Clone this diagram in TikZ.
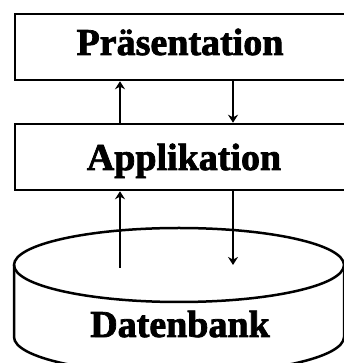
\documentclass[tikz,border=0pt]{standalone}
\usepackage{fontspec}
\setmainfont{Liberation Serif}
\newfontfamily\heavyfont[FakeBold=2]{Liberation Serif Bold}
\usetikzlibrary{arrows.meta}
\begin{document}
\begin{tikzpicture}[x=1pt,y=1pt,
  layerbox/.style={draw=black,line width=2.5pt,fill=white,minimum width=331pt,minimum height=66pt,inner sep=0pt},
  lbl/.style={font=\heavyfont\fontsize{38}{40}\selectfont,inner sep=0pt,anchor=base},
  arr/.style={line width=2.2pt,-{Stealth[length=8pt,width=10pt]}},
  cyl/.style={draw=black,line width=2.5pt}]
\useasboundingbox (0,0) rectangle (344,363);
\node[layerbox] (pres) at (180.5,316) {};
\node[layerbox] (app) at (180.5,206) {};
\node[lbl] (presT) at (180,308) {Präsentation};
\node[lbl] (appT) at (184,193) {Applikation};
% database cylinder
\draw[cyl] (14,98) -- (14,26) arc[start angle=180,end angle=360,x radius=165,y radius=37] -- (344,98);
\draw[cyl] (179,98) ellipse[x radius=165,y radius=37];
\node[lbl] (dbT) at (180,26) {Datenbank};
\coordinate (L) at (120,0);
\coordinate (R) at (233,0);
\coordinate (dbL) at (120,95);
\coordinate (dbR) at (233,98);
\draw[arr] (app.north -| L) -- (pres.south -| L);
\draw[arr] (pres.south -| R) -- (app.north -| R);
\draw[arr] (dbL) -- (app.south -| L);
\draw[arr] (app.south -| R) -- (dbR);
\end{tikzpicture}
\end{document}
